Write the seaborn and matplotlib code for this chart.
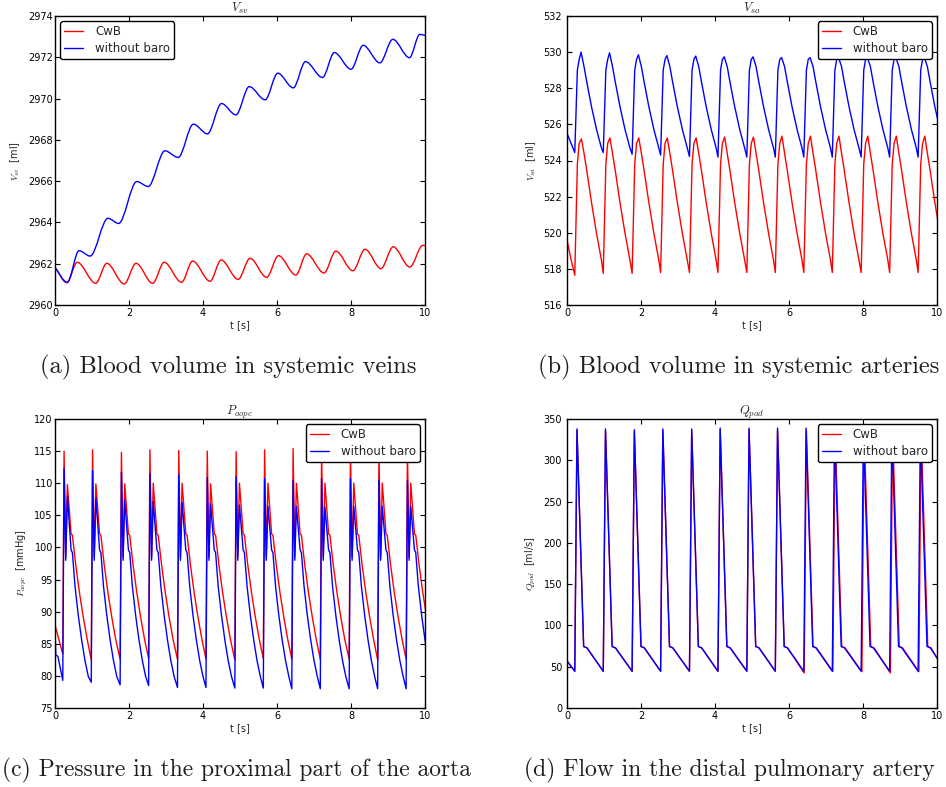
import matplotlib
matplotlib.use("Agg")
import matplotlib.pyplot as plt
from matplotlib.lines import Line2D
from matplotlib.path import Path
from matplotlib.patches import PathPatch
import pandas as pd
import seaborn as sns

# ---------------------------------------------------------------- data
SERIES = ["CwB", "without baro"]
PALETTE = {"CwB": "#ff0000", "without baro": "#0000ff"}
TIME_TICKS = [0, 2, 4, 6, 8, 10]

# V_sv: turning points (extrema) of the venous volume oscillation [s], [ml]
VSV_CWB_T = [0.00, 0.32, 0.60, 1.10, 1.40, 1.87, 2.19, 2.64, 2.95, 3.42, 3.72, 4.19, 4.49, 4.95,
             5.27, 5.72, 6.04, 6.51, 6.80, 7.27, 7.59, 8.05, 8.38, 8.81, 9.14, 9.59, 9.94, 10.0]
VSV_CWB_V = [2961.82, 2961.08, 2962.07, 2961.05, 2962.02, 2961.02, 2962.02, 2961.05, 2962.07,
             2961.10, 2962.13, 2961.15, 2962.18, 2961.24, 2962.26, 2961.34, 2962.39, 2961.45,
             2962.48, 2961.55, 2962.61, 2961.66, 2962.70, 2961.76, 2962.82, 2961.84, 2962.89,
             2962.87]
VSV_NOBARO_T = [0.00, 0.33, 0.65, 0.95, 1.43, 1.72, 2.21, 2.52, 2.97, 3.33, 3.74, 4.12, 4.50, 4.89,
                5.25, 5.68, 6.02, 6.44, 6.77, 7.23, 7.55, 8.00, 8.33, 8.78, 9.13, 9.58, 9.86, 10.0]
VSV_NOBARO_V = [2961.82, 2961.10, 2962.63, 2962.37, 2964.20, 2963.95, 2965.98, 2965.74, 2967.47,
                2967.15, 2968.76, 2968.29, 2969.76, 2969.21, 2970.58, 2969.94, 2971.23, 2970.52,
                2971.79, 2971.02, 2972.23, 2971.42, 2972.58, 2971.73, 2972.87, 2971.98, 2973.11,
                2973.06]

# start of each heart beat (end-diastole) [s]
BEAT_ONSETS = [0.21, 0.98, 1.76, 2.53, 3.31, 4.08, 4.86, 5.63, 6.40, 7.17, 7.95, 8.72, 9.49]

# V_sa [ml]
VSA_CWB_LEAD_T, VSA_CWB_LEAD_V = [0.0, 0.10], [519.6, 518.6]
VSA_CWB_LOW = [517.65, 517.75, 517.75, 517.8, 517.8, 517.8, 517.8, 517.8, 517.8, 517.8, 517.8, 517.8, 517.8]
VSA_CWB_HIGH = [525.2, 525.25, 525.25, 525.25, 525.25, 525.3, 525.3, 525.35, 525.35, 525.35, 525.35, 525.35, 525.35]
VSA_CWB_BEAT_T = [0.07, 0.12, 0.25, 0.32, 0.45, 0.585, 0.72]
VSA_CWB_BEAT_V = [523.8, 524.95, 524.4, 523.5, 521.7, 520.0, 518.5]

VSA_NOBARO_LEAD_T, VSA_NOBARO_LEAD_V = [0.0, 0.10], [525.5, 525.0]
VSA_NOBARO_LOW = [524.44, 524.44, 524.35, 524.30, 524.22, 524.19, 524.19, 524.19, 524.19, 524.19, 524.19, 524.19, 524.19]
VSA_NOBARO_HIGH = [530.0, 529.96, 529.85, 529.81, 529.78, 529.74, 529.74, 529.70, 529.70, 529.70, 529.70, 529.70, 529.70]
VSA_NOBARO_BEAT_T = [0.07, 0.12, 0.25, 0.32, 0.45, 0.59, 0.72]
VSA_NOBARO_BEAT_V = [529.0, 529.6, 529.2, 528.4, 527.0, 525.7, 524.7]
VSA_PEAK_DT = 0.17

# P_aopc [mmHg]
PAO_CWB_LEAD_T, PAO_CWB_LEAD_V = [0.0], [87.9]
PAO_CWB_LOW = [83.4, 82.5, 82.6, 82.7, 82.6, 82.6, 82.5, 82.7, 82.6, 82.6, 82.6, 82.5, 82.6]
PAO_CWB_SPIKE = [115.0, 115.2, 114.8, 115.2, 115.1, 115.0, 114.9, 115.2, 115.4, 115.1, 115.2, 115.1, 115.1]
PAO_CWB_CREST = [109.8, 109.9, 109.9, 110.0, 110.0, 109.9, 110.0, 110.0, 110.0, 110.0, 110.0, 110.0, 110.0]
PAO_CWB_DIP = 98.5
PAO_CWB_TAIL_T = [0.225, 0.26, 0.35, 0.45, 0.55, 0.66]
PAO_CWB_TAIL_V = [102.1, 101.9, 97.3, 93.0, 89.3, 85.7]

PAO_NOBARO_LEAD_T, PAO_NOBARO_LEAD_V = [0.0, 0.02, 0.08], [87.5, 83.3, 83.0]
PAO_NOBARO_LOW = [79.3, 79.0, 78.6, 78.5, 78.2, 78.2, 78.1, 78.1, 78.0, 78.0, 78.0, 78.0, 78.0]
PAO_NOBARO_SPIKE = [112.35, 112.0, 111.7, 111.5, 111.3, 110.9, 111.0, 110.7, 110.5, 110.7, 110.7, 110.5, 110.4]
PAO_NOBARO_CREST = [108.0, 107.7, 107.4, 107.2, 107.0, 106.8, 106.6, 106.4, 106.4, 106.3, 106.4, 106.4, 106.4]
PAO_NOBARO_DIP = 98.0
PAO_NOBARO_TAIL_T = [0.225, 0.26, 0.33, 0.42, 0.51, 0.60, 0.69]
PAO_NOBARO_TAIL_V = [99.6, 99.2, 94.0, 89.4, 85.6, 82.4, 79.9]
PAO_SPIKE_DT, PAO_DIP_DT, PAO_CREST_DT = 0.035, 0.08, 0.125

# Q_pad [ml/s]
QPA_LEAD_T, QPA_LEAD_V = [0.0], [57.0]
QPA_CWB_ONSETS = [0.21, 0.98, 1.76, 2.53, 3.31, 4.08, 4.86, 5.63, 6.41, 7.185, 7.97, 8.74, 9.51]
QPA_CWB_LOW = [44.5, 44.5, 44.5, 44.5, 44.5, 44.5, 44.5, 44.5, 42.5, 44.5, 44.0, 42.5, 44.0]
QPA_CWB_PEAK = [336, 336, 335, 336, 336, 337, 337, 336, 336, 336, 336, 336, 336]
QPA_NOBARO_LOW = [44.5, 44.5, 44.5, 44.5, 44.5, 44.5, 44.5, 44.5, 44.5, 44.5, 44.5, 44.5, 44.5]
QPA_NOBARO_PEAK = [338, 338, 337, 338, 338, 339, 339, 339, 339, 338, 338, 338, 338]
QPA_BEAT_T = [0.24, 0.33]
QPA_BEAT_V = [74.5, 72.8]
QPA_PEAK_DT = 0.06
QPA_CWB_TRAIL = (10.0, 60.0)
QPA_NOBARO_TRAIL = (10.0, 61.0)


# ---------------------------------------------------------------- helpers
def beat_trace(lead_t, lead_v, onsets, per_beat, template_t, template_v, trail=None):
    """Concatenate beat waveforms: per_beat is a list of (dt, values) with one
    value per beat, template_t/template_v are points shared by every beat."""
    t, v = list(lead_t), list(lead_v)
    for i, t0 in enumerate(onsets):
        pts = [(dt, vals[i]) for dt, vals in per_beat]
        pts += list(zip(template_t, template_v))
        pts.sort(key=lambda p: p[0])
        for dt, val in pts:
            t.append(t0 + dt)
            v.append(val)
    if trail is not None:
        t.append(trail[0])
        v.append(trail[1])
    return t, v


def long_frame(traces):
    rows = []
    for name, (t, v) in traces.items():
        rows += [{"t": a, "v": b, "series": name} for a, b in zip(t, v)]
    return pd.DataFrame(rows)


def smooth_path(ts, vs):
    """Cubic Bezier path through turning points with flat tangents at extrema."""
    n = len(ts)
    slopes = [0.0] * n
    slopes[0] = (vs[1] - vs[0]) / (ts[1] - ts[0])
    slopes[-1] = (vs[-1] - vs[-2]) / (ts[-1] - ts[-2])
    verts = [(ts[0], vs[0])]
    codes = [Path.MOVETO]
    for i in range(n - 1):
        h = ts[i + 1] - ts[i]
        verts.append((ts[i] + h / 3, vs[i] + slopes[i] * h / 3))
        verts.append((ts[i + 1] - h / 3, vs[i + 1] - slopes[i + 1] * h / 3))
        verts.append((ts[i + 1], vs[i + 1]))
        codes += [Path.CURVE4] * 3
    return Path(verts, codes)


# ---------------------------------------------------------------- style
sns.set_style("ticks")
plt.rcParams.update({
    "font.family": ["DejaVu Sans"],
    "mathtext.fontset": "cm",
    "axes.edgecolor": "black",
    "axes.linewidth": 1.0,
    "xtick.color": "black",
    "ytick.color": "black",
})

W, H = 946, 787
fig = plt.figure(figsize=(W / 100, H / 100), dpi=100)
fig.patch.set_facecolor("white")


def rect(l, t, r, b):
    return [l / W, 1 - b / H, (r - l) / W, (b - t) / H]


ax_a = fig.add_axes(rect(55, 16, 425, 305))
ax_b = fig.add_axes(rect(567, 16, 937, 305))
ax_c = fig.add_axes(rect(55, 419, 425, 708))
ax_d = fig.add_axes(rect(567, 419, 937, 708))

# (a) venous volume: smooth curves through the turning points
for name, ts, vs in [("CwB", VSV_CWB_T, VSV_CWB_V), ("without baro", VSV_NOBARO_T, VSV_NOBARO_V)]:
    ax_a.add_patch(PathPatch(smooth_path(ts, vs), facecolor="none",
                             edgecolor=PALETTE[name], lw=1.0))

# (b) arterial volume
vsa = long_frame({
    "CwB": beat_trace(VSA_CWB_LEAD_T, VSA_CWB_LEAD_V, BEAT_ONSETS,
                      [(0.0, VSA_CWB_LOW), (VSA_PEAK_DT + 0.01, VSA_CWB_HIGH)],
                      VSA_CWB_BEAT_T, VSA_CWB_BEAT_V),
    "without baro": beat_trace(VSA_NOBARO_LEAD_T, VSA_NOBARO_LEAD_V, BEAT_ONSETS,
                               [(0.0, VSA_NOBARO_LOW), (VSA_PEAK_DT, VSA_NOBARO_HIGH)],
                               VSA_NOBARO_BEAT_T, VSA_NOBARO_BEAT_V),
})
sns.lineplot(data=vsa, x="t", y="v", hue="series", hue_order=SERIES, palette=PALETTE,
             estimator=None, sort=False, lw=1.0, legend=False, ax=ax_b)

# (c) aortic pressure
pao = long_frame({
    "CwB": beat_trace(PAO_CWB_LEAD_T, PAO_CWB_LEAD_V, BEAT_ONSETS,
                      [(0.0, PAO_CWB_LOW), (PAO_SPIKE_DT, PAO_CWB_SPIKE),
                       (PAO_CREST_DT, PAO_CWB_CREST)],
                      [PAO_DIP_DT] + PAO_CWB_TAIL_T, [PAO_CWB_DIP] + PAO_CWB_TAIL_V),
    "without baro": beat_trace(PAO_NOBARO_LEAD_T, PAO_NOBARO_LEAD_V, BEAT_ONSETS,
                               [(0.0, PAO_NOBARO_LOW), (PAO_SPIKE_DT, PAO_NOBARO_SPIKE),
                                (PAO_CREST_DT, PAO_NOBARO_CREST)],
                               [PAO_DIP_DT] + PAO_NOBARO_TAIL_T,
                               [PAO_NOBARO_DIP] + PAO_NOBARO_TAIL_V),
})
sns.lineplot(data=pao, x="t", y="v", hue="series", hue_order=SERIES, palette=PALETTE,
             estimator=None, sort=False, lw=1.0, legend=False, ax=ax_c)

# (d) pulmonary flow
qpa = long_frame({
    "CwB": beat_trace(QPA_LEAD_T, QPA_LEAD_V, QPA_CWB_ONSETS,
                      [(0.0, QPA_CWB_LOW), (QPA_PEAK_DT, QPA_CWB_PEAK)],
                      QPA_BEAT_T, QPA_BEAT_V, trail=QPA_CWB_TRAIL),
    "without baro": beat_trace(QPA_LEAD_T, QPA_LEAD_V, BEAT_ONSETS,
                               [(0.0, QPA_NOBARO_LOW), (QPA_PEAK_DT, QPA_NOBARO_PEAK)],
                               QPA_BEAT_T, QPA_BEAT_V, trail=QPA_NOBARO_TRAIL),
})
sns.lineplot(data=qpa, x="t", y="v", hue="series", hue_order=SERIES, palette=PALETTE,
             estimator=None, sort=False, lw=1.0, legend=False, ax=ax_d)

# ---------------------------------------------------------------- decoration
panels = [
    (ax_a, r"$V_{sv}$", r"$V_{sv}$  [ml]", (2960, 2974), range(2960, 2975, 2), "upper left", 1.5),
    (ax_b, r"$V_{sa}$", r"$V_{sa}$  [ml]", (516, 532), range(516, 533, 2), "upper right", 3.5),
    (ax_c, r"$P_{aopc}$", r"$P_{aopc}$  [mmHg]", (75, 120), range(75, 121, 5), "upper right", 1.5),
    (ax_d, r"$Q_{pad}$", r"$Q_{pad}$  [ml/s]", (0, 350), range(0, 351, 50), "upper right", 3.5),
]
handles = [Line2D([], [], color=PALETTE[s], lw=1.0, label=s) for s in SERIES]

for ax, title, ylabel, ylim, yticks, loc, ypad in panels:
    ax.set_xlim(0, 10)
    ax.set_ylim(*ylim)
    ax.set_xticks(TIME_TICKS)
    ax.set_yticks(list(yticks))
    ax.tick_params(direction="in", top=True, right=True, length=3.5, width=0.8,
                   labelsize=7, colors="black")
    ax.tick_params(axis="x", pad=2.5)
    ax.tick_params(axis="y", pad=ypad)
    ax.set_xlabel("t [s]", fontsize=7, labelpad=1.5)
    ax.set_ylabel(ylabel, fontsize=7, labelpad=4)
    ax.set_title(title, fontsize=9, pad=3)
    for sp in ax.spines.values():
        sp.set_visible(True)
        sp.set_linewidth(1.0)
        sp.set_color("black")
    leg = ax.legend(handles=handles, loc=loc, fontsize=8.5, frameon=True, fancybox=True,
                    framealpha=1.0, edgecolor="black", borderaxespad=0.45, borderpad=0.35,
                    labelspacing=0.3, handlelength=1.6, handletextpad=1.0)
    leg.get_frame().set_linewidth(1.0)

# sub-figure captions (x, baseline y in pixels, alignment, size)
captions = [
    (40, 373, "left", 17.7, "(a) Blood volume in systemic veins"),
    (538, 373, "left", 17.6, "(b) Blood volume in systemic arteries"),
    (2, 776, "left", 16.9, "(c) Pressure in the proximal part of the aorta"),
    (524, 776, "left", 17.0, "(d) Flow in the distal pulmonary artery"),
]
for x, y, ha, size, text in captions:
    fig.text(x / W, 1 - y / H, text, family="cmr10", fontsize=size, color="#1e1e1e",
             ha=ha, va="baseline")

fig.savefig("out.png", dpi=100, facecolor="white")
